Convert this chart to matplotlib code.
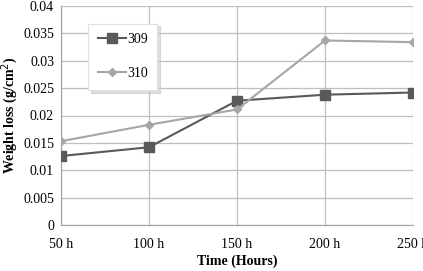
import matplotlib
matplotlib.use("Agg")
import matplotlib.pyplot as plt

hours = ["50 h", "100 h", "150 h", "200 h", "250 h"]
loss_309 = [0.0126, 0.0142, 0.0227, 0.0238, 0.0242]
loss_310 = [0.0153, 0.0183, 0.0211, 0.0337, 0.0334]
y_ticks = [0, 0.005, 0.01, 0.015, 0.02, 0.025, 0.03, 0.035, 0.04]
y_labels = ["0", "0.005", "0.01", "0.015", "0.02", "0.025", "0.03", "0.035", "0.04"]

plt.rcParams["font.family"] = ["Liberation Serif", "DejaVu Serif"]

fig = plt.figure(figsize=(4.23, 2.71), dpi=100)
ax = fig.add_axes([61 / 423, 1 - 225 / 271, 352 / 423, 219 / 271])

x = range(len(hours))
ax.plot(x, loss_309, color="#595959", lw=1.5, marker="s", ms=7,
        label="309", zorder=3)
ax.plot(x, loss_310, color="#a6a6a6", lw=1.5, marker="D", ms=4,
        label="310", zorder=3)

ax.set_xlim(0, len(hours) - 1)
ax.set_ylim(0, 0.04)
ax.set_xticks(list(x))
ax.set_xticklabels(hours, fontsize=10)
ax.set_yticks(y_ticks)
ax.set_yticklabels(y_labels, fontsize=10)
ax.tick_params(length=0)
ax.tick_params(axis="x", pad=9)
ax.tick_params(axis="y", pad=5)

ax.grid(True, color="#bfbfbf", lw=0.9)
ax.set_axisbelow(True)
for side in ["top", "right"]:
    ax.spines[side].set_visible(False)
for side in ["left", "bottom"]:
    ax.spines[side].set_color("#a0a0a0")

ax.set_xlabel("Time (Hours)", fontsize=10, fontweight="bold", labelpad=3)
ax.set_ylabel("Weight loss (g/cm$^2$)", fontsize=10, fontweight="bold", labelpad=2)

leg = ax.legend(loc="upper left", bbox_to_anchor=(0.077, 0.92), fontsize=10,
                frameon=True, fancybox=False,
                shadow={"color": "#c8c8c8", "alpha": 0.6},
                borderpad=0.7, labelspacing=1.5, handlelength=2.0,
                handletextpad=0.1, borderaxespad=0, edgecolor="#e0e0e0")
leg.get_frame().set_linewidth(0.8)

fig.savefig("out.png", dpi=100)
